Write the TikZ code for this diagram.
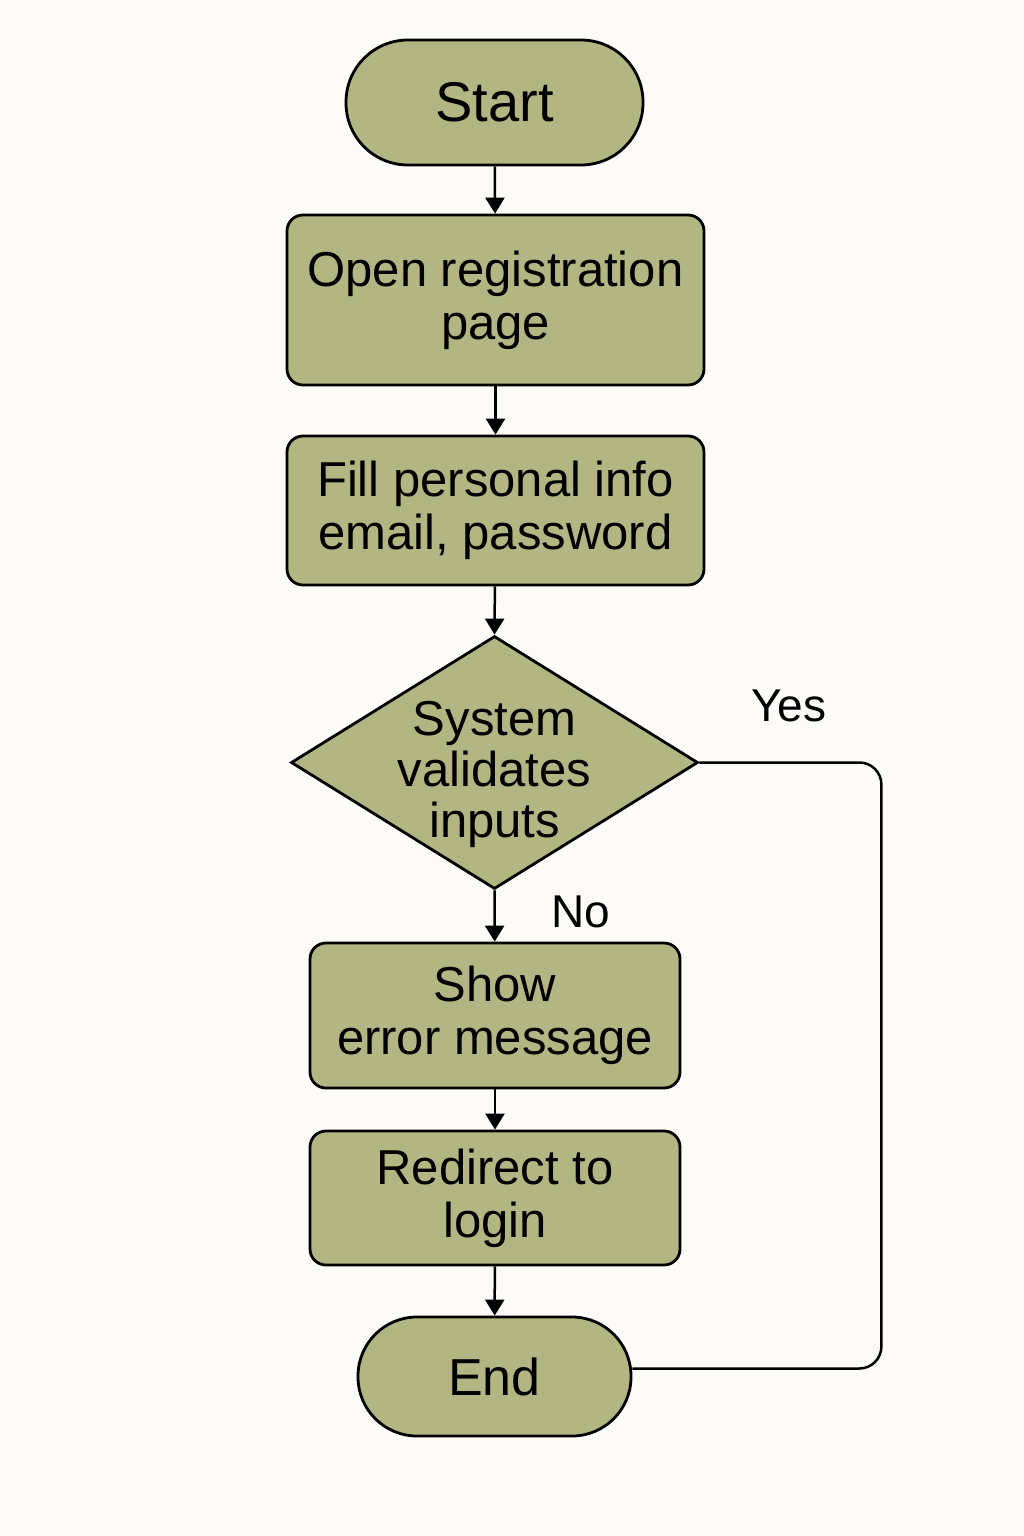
\documentclass[tikz,border=0pt]{standalone}
\usepackage{fontspec}
\setmainfont{Liberation Sans}
\usetikzlibrary{arrows.meta,shapes.geometric}
\definecolor{bgc}{HTML}{FDFBF7}
\definecolor{olive}{HTML}{B3B682}
\begin{document}
\begin{tikzpicture}[x=1pt,y=-1pt,
  base/.style={draw=black,line width=2.8pt,fill=olive,inner sep=0pt,align=center,
    font=\fontsize{49}{53}\selectfont},
  procbox/.style={base,rectangle,rounded corners=16pt},
  pill/.style={base,rectangle},
  decision/.style={base,diamond},
  txt/.style={inner sep=0pt,align=center,font=\fontsize{49}{51}\selectfont},
  conn/.style={line width=2.5pt,draw=black},
  arr/.style={conn,-{Triangle[length=16pt,width=19pt]}},
  lbl/.style={font=\fontsize{46}{50}\selectfont,inner sep=0pt}]
\fill[bgc] (0,0) rectangle (1024,1536);
\useasboundingbox (0,0) rectangle (1024,1536);

\node[pill,minimum width=297pt,minimum height=125pt,rounded corners=62pt,
  font=\fontsize{56}{60}\selectfont] (start) at (494.5,102.5) {Start};
\node[procbox,minimum width=417pt,minimum height=170pt] (open) at (495.5,300) {Open registration\\page};
\node[procbox,minimum width=417pt,minimum height=149pt] (fill) at (495.5,510.5) {Fill personal info\\email, password};
\node[decision,minimum width=407pt,minimum height=253pt] (valid) at (494.5,762.5) {};
\node[txt] (validtext) at (494.5,774) {System\\validates\\inputs};
\node[procbox,minimum width=370pt,minimum height=145pt] (err) at (495,1015.5) {Show\\error message};
\node[procbox,minimum width=370pt,minimum height=134pt] (redir) at (495,1198) {Redirect to\\login};
\node[pill,minimum width=273pt,minimum height=119pt,rounded corners=59pt,
  font=\fontsize{52}{56}\selectfont] (end) at (494.5,1376.5) {End};

\draw[arr] (start) -- (open);
\draw[arr] (open) -- (fill);
\draw[arr] (fill) -- (valid.north);
\draw[arr] (valid.south) -- (err);
\draw[arr] (err) -- (redir);
\draw[arr] (redir) -- (end);
\draw[conn,rounded corners=22pt] (valid.east) -- ++(182,0) |- ([yshift=8pt]end.east);

\node[lbl] (yes) at (789,706) {Yes};
\node[lbl] (no) at (581,912) {No};
\end{tikzpicture}
\end{document}
